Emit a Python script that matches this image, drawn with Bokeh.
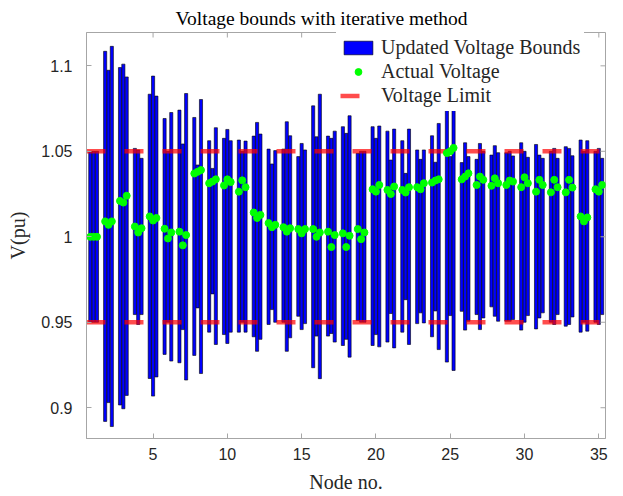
from bokeh.plotting import figure
from bokeh.models import FixedTicker, Range1d, Legend, LegendItem, ColumnDataSource
from bokeh.embed import file_html
from bokeh.resources import INLINE

# ---------------- data ----------------
nodes = list(range(1, 36))

upper_a = [1.050, 1.1085, 1.099, 1.0517, 1.0834, 1.0692, 1.0741, 1.0698, 1.0562, 1.0576,
           1.0566, 1.0589, 1.0513, 1.0513, 1.0469, 1.0766, 1.0589, 1.0644, 1.0488, 1.0644,
           1.0618, 1.0562, 1.0508, 1.0591, 1.0741, 1.0434, 1.0453, 1.0478, 1.0492, 1.0550,
           1.0540, 1.0500, 1.0527, 1.0566, 1.0500]
lower_a = [0.950, 0.8920, 0.9016, 0.9545, 0.9171, 0.9312, 0.9263, 0.9306, 0.9442, 0.9428,
           0.9442, 0.9415, 0.9487, 0.9500, 0.9535, 0.9234, 0.9419, 0.9364, 0.9510, 0.9364,
           0.9384, 0.9442, 0.9492, 0.9415, 0.9267, 0.9564, 0.9545, 0.9590, 0.9506, 0.9454,
           0.9461, 0.9500, 0.9477, 0.9442, 0.9500]
upper_b = [1.050, 1.0974, 1.101, 1.0508, 1.0940, 1.0500, 1.0543, 1.0420, 1.0400, 1.0628,
           1.0500, 1.0669, 1.0426, 1.0673, 1.0546, 1.0585, 1.0576, 1.0605, 1.0500, 1.0576,
           1.0449, 1.0371, 1.0453, 1.0436, 1.0469, 1.0550, 1.0546, 1.0533, 1.0500, 1.0500,
           1.0478, 1.0517, 1.0517, 1.0500, 1.0517]
lower_b = [0.950, 0.9030, 0.8994, 0.9487, 0.9068, 0.9500, 0.9457, 0.9584, 0.9666, 0.9376,
           0.9500, 0.9330, 0.9574, 0.9330, 0.9457, 0.9419, 0.9434, 0.9400, 0.9500, 0.9428,
           0.9551, 0.9632, 0.9555, 0.9566, 0.9539, 0.9454, 0.9457, 0.9535, 0.9506, 0.9500,
           0.9525, 0.9487, 0.9487, 0.9500, 0.9487]
upper_c = [1.050, 1.1114, 1.0935, 1.0459, 1.0823, 1.0727, 1.0838, 1.0803, 1.0638, 1.0562,
           1.0560, 1.0601, 1.0504, 1.0591, 1.0508, 1.0834, 1.0618, 1.0708, 1.0500, 1.0648,
           1.0630, 1.0630, 1.0508, 1.0663, 1.0784, 1.0469, 1.0500, 1.0492, 1.0473, 1.0465,
           1.0459, 1.0459, 1.0474, 1.0562, 1.0459]
lower_c = [0.950, 0.8890, 0.9072, 0.9545, 0.9180, 0.9273, 0.9162, 0.9200, 0.9370, 0.9442,
           0.9442, 0.9400, 0.9500, 0.9409, 0.9492, 0.9170, 0.9384, 0.9296, 0.9500, 0.9356,
           0.9350, 0.9370, 0.9496, 0.9340, 0.9218, 0.9506, 0.9525, 0.9506, 0.9516, 0.9539,
           0.9555, 0.9545, 0.9531, 0.9448, 0.9545]

volt_a = [1.000, 1.009, 1.021, 1.006, 1.0119, 1.0047, 1.003, 1.037, 1.0313, 1.030,
          1.0264, 1.0142, 1.008, 1.0056, 1.0045, 1.0045, 1.003, 1.002, 1.0045, 1.0278,
          1.0274, 1.0274, 1.029, 1.0317, 1.049, 1.0336, 1.0303, 1.0298, 1.0303, 1.029,
          1.0264, 1.026, 1.026, 1.0119, 1.0278]
volt_b = [1.000, 1.007, 1.020, 1.0025, 1.0095, 0.999, 0.995, 1.038, 1.0323, 1.0336,
          1.033, 1.011, 1.0056, 1.003, 1.002, 1.000, 0.994, 0.994, 0.9986, 1.0264,
          1.025, 1.0259, 1.0278, 1.0329, 1.050, 1.0352, 1.0352, 1.0342, 1.0329, 1.0348,
          1.0333, 1.0333, 1.0333, 1.009, 1.0264]
volt_c = [1.000, 1.009, 1.024, 1.005, 1.011, 1.0025, 1.001, 1.039, 1.0336, 1.032,
          1.029, 1.0128, 1.007, 1.005, 1.0045, 1.0025, 1.001, 1.0006, 1.0025, 1.0303,
          1.0294, 1.029, 1.0313, 1.0336, 1.052, 1.0371, 1.0333, 1.0313, 1.0323, 1.0313,
          1.0303, 1.029, 1.0288, 1.0113, 1.0303]

voltage_limits = [1.05, 0.95]
x_ticks = [5, 10, 15, 20, 25, 30, 35]
y_ticks = [0.9, 0.95, 1.0, 1.05, 1.1]
y_tick_labels = ["0.9", "0.95", "1", "1.05", "1.1"]

# ---------------- layout / style ----------------
W, H = 623, 496
BL, BR, BT, BB = 86, 18, 32, 58
x_lim = (0.52, 35.45)
y_lim = (0.882, 1.1195)
offsets = [-0.225, 0.0, 0.225]
bar_w = 0.21
TICK = 5  # px

SERIF = "Liberation Serif"
SANS = "Liberation Sans"
AX_COL = "#a6a6a6"
TXT_COL = "#262626"

p = figure(width=W, height=H, output_backend="svg", toolbar_location=None,
           x_range=Range1d(*x_lim), y_range=Range1d(*y_lim),
           min_border_left=BL, min_border_right=BR, min_border_top=BT, min_border_bottom=BB,
           title="Voltage bounds with iterative method")
p.grid.visible = False
p.background_fill_color = "white"
p.border_fill_color = "white"
p.outline_line_color = AX_COL
p.outline_line_width = 1

p.title.text_font = SERIF
p.title.text_font_size = "19.5px"
p.title.text_font_style = "normal"
p.title.text_color = "black"
p.title.align = "left"
p.title.offset = 89
p.title.standoff = 8

# bars (three per node)
bx, btop, bbot = [], [], []
for off, ups, los in zip(offsets, [upper_a, upper_b, upper_c], [lower_a, lower_b, lower_c]):
    for n, u, l in zip(nodes, ups, los):
        bx.append(n + off)
        btop.append(u)
        bbot.append(l)
bar_src = ColumnDataSource(dict(x=bx, top=btop, bottom=bbot))
bars = p.vbar(x="x", top="top", bottom="bottom", width=bar_w, source=bar_src,
              fill_color="#0000ff", line_color="#000000", line_width=0.6)

# voltage limits
lim = p.multi_line(xs=[list(x_lim), list(x_lim)], ys=[[v, v] for v in voltage_limits],
                   line_color="#ff0000", line_alpha=0.7, line_width=4.5, line_dash="19 19")

# actual voltages
vx, vy = [], []
for off, vs in zip(offsets, [volt_a, volt_b, volt_c]):
    for n, v in zip(nodes, vs):
        vx.append(n + off)
        vy.append(v)
pts = p.scatter(x=vx, y=vy, size=7, marker="circle", fill_color="#00ff00", line_color="#00ff00")

# axes
for ax in (p.xaxis[0], p.yaxis[0]):
    ax.axis_line_color = AX_COL
    ax.major_tick_line_color = AX_COL
    ax.major_tick_in = TICK
    ax.major_tick_out = 0
    ax.minor_tick_line_color = None
    ax.major_label_text_font = SANS
    ax.major_label_text_font_size = "16px"
    ax.major_label_text_color = TXT_COL
    ax.axis_label_text_font = SERIF
    ax.axis_label_text_font_size = "20px"
    ax.axis_label_text_font_style = "normal"
    ax.axis_label_text_color = TXT_COL

p.xaxis[0].ticker = FixedTicker(ticks=x_ticks)
p.yaxis[0].ticker = FixedTicker(ticks=y_ticks)
p.yaxis[0].major_label_overrides = {t: s for t, s in zip(y_ticks, y_tick_labels)}
p.xaxis[0].axis_label = "Node no."
p.yaxis[0].axis_label = "V(pu)"
p.xaxis[0].major_label_standoff = 9
p.yaxis[0].major_label_standoff = 14
p.xaxis[0].axis_label_standoff = 8
p.yaxis[0].axis_label_standoff = 9

# box ticks on top and right (inward), sized from the frame
frame_w = W - BL - BR
frame_h = H - BT - BB
dx = (x_lim[1] - x_lim[0]) * TICK / frame_w
dy = (y_lim[1] - y_lim[0]) * TICK / frame_h
p.segment(x0=x_ticks, x1=x_ticks, y0=[y_lim[1]] * len(x_ticks), y1=[y_lim[1] - dy] * len(x_ticks),
          line_color=AX_COL, line_width=1)
p.segment(x0=[x_lim[1]] * len(y_ticks), x1=[x_lim[1] - dx] * len(y_ticks), y0=y_ticks, y1=y_ticks,
          line_color=AX_COL, line_width=1)

legend = Legend(items=[LegendItem(label="Updated Voltage Bounds", renderers=[bars]),
                       LegendItem(label="Actual Voltage", renderers=[pts]),
                       LegendItem(label="Voltage Limit", renderers=[lim])],
                location=(250, 327), margin=0, padding=4, spacing=1,
                glyph_width=36, glyph_height=17, label_standoff=5,
                label_text_font=SERIF, label_text_font_size="20px", label_text_color=TXT_COL,
                border_line_alpha=0, background_fill_color="white", background_fill_alpha=1)
p.add_layout(legend, "center")

open("out.html", "w").write(file_html(p, INLINE))
